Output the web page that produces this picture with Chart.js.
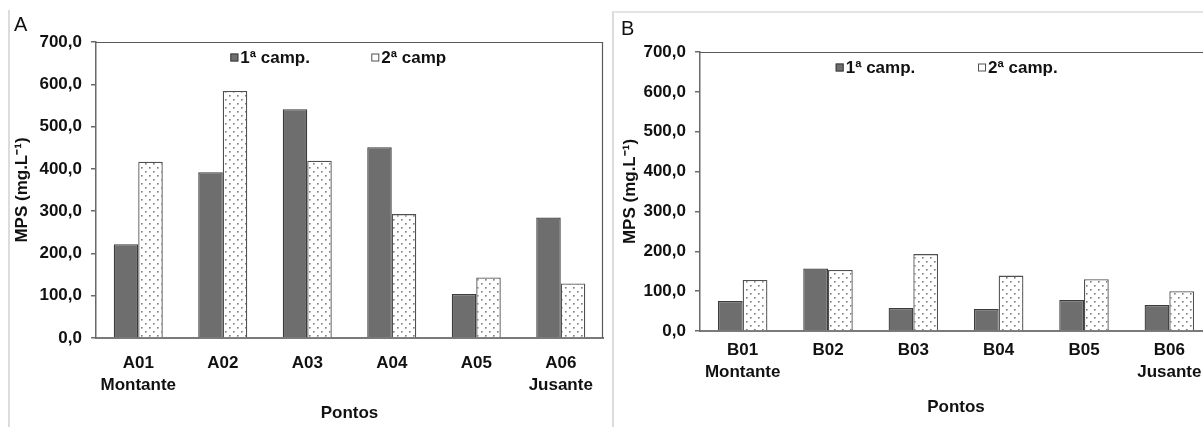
<!DOCTYPE html>
<html>
<head>
<meta charset="utf-8">
<script src="https://cdn.jsdelivr.net/npm/chart.js@4.4.1/dist/chart.umd.min.js"></script>
<style>
  html, body { margin: 0; padding: 0; background: #fff; width: 1203px; height: 427px; overflow: hidden; position: relative; font-family: 'Liberation Sans', Arial, sans-serif; }
  .wrap { position: absolute; }
  .frameA { position: absolute; left: 8px; top: 10px; width: 0; height: 417px; border-left: 2px solid #dcdcdc; }
  .frameB { position: absolute; left: 612px; top: 11px; width: 600px; height: 420px; border-left: 2px solid #dcdcdc; border-top: 2px solid #e4e4e4; }
  .letter { position: absolute; font-size: 20px; color: #111; font-family: 'Liberation Sans', Arial, sans-serif; }
</style>
</head>
<body>
<div class="frameA"></div>
<div class="frameB"></div>
<div class="wrap" style="left:8px; top:10px; width:600px; height:417px;"><canvas id="cA"></canvas></div>
<div class="wrap" style="left:613px; top:12px; width:620px; height:415px;"><canvas id="cB"></canvas></div>
<div class="letter" style="left:14px; top:13px;">A</div>
<div class="letter" style="left:621px; top:17px;">B</div>
<script>
// ---------- data ----------
const categoriesA = [['A01', 'Montante'], 'A02', 'A03', 'A04', 'A05', ['A06', 'Jusante']];
const campA1 = [222, 392, 541, 451, 104, 285];
const campA2 = [417, 584, 419, 293, 143, 129];
const seriesNamesA = ['1ª camp.', '2ª camp'];

const categoriesB = [['B01', 'Montante'], 'B02', 'B03', 'B04', 'B05', ['B06', 'Jusante']];
const campB1 = [75, 157, 58, 55, 78, 65];
const campB2 = [128, 153, 193, 139, 130, 100];
const seriesNamesB = ['1ª camp.', '2ª camp.'];

const yTickLabels = ['0,0', '100,0', '200,0', '300,0', '400,0', '500,0', '600,0', '700,0'];
const yTitle = 'MPS (mg.L\u207B\u00B9)';
const xTitle = 'Pontos';

// ---------- styles ----------
const FONT = "'Liberation Sans', Arial, sans-serif";
const dark = '#6e6e6e';
const darkBorder = '#3c3c3c';
const lightBorder = '#505050';

function makePattern() {
  const c = document.createElement('canvas');
  c.width = 8; c.height = 8;
  const g = c.getContext('2d');
  g.fillStyle = '#ffffff';
  g.fillRect(0, 0, 8, 8);
  g.fillStyle = '#7c7c7c';
  g.fillRect(1, 1, 1.6, 1.6);
  g.fillRect(5, 5, 1.6, 1.6);
  return g.createPattern(c, 'repeat');
}
const dots = makePattern();

const innerLegend = {
  id: 'innerLegend',
  afterDatasetsDraw(chart, args, opts) {
    const { ctx, chartArea } = chart;
    const w = chartArea.right - chartArea.left;
    ctx.save();
    // frame
    ctx.strokeStyle = '#5a5a5a';
    ctx.lineWidth = 1.2;
    ctx.beginPath();
    ctx.moveTo(chartArea.left, chartArea.top + 0.5);
    ctx.lineTo(chartArea.right - 0.5, chartArea.top + 0.5);
    ctx.lineTo(chartArea.right - 0.5, chartArea.bottom);
    ctx.stroke();
    chart.data.datasets.forEach((ds, i) => {
      const x = chartArea.left + opts.pos[i] * w;
      const y = chartArea.top + opts.dy;
      ctx.fillStyle = i === 0 ? dark : '#ffffff';
      ctx.fillRect(x, y - 4, 8, 8);
      ctx.strokeStyle = i === 0 ? darkBorder : lightBorder;
      ctx.lineWidth = 1;
      ctx.strokeRect(x + 0.5, y - 3.5, 7, 7);
      ctx.fillStyle = '#111';
      ctx.font = 'bold 17px ' + FONT;
      ctx.textBaseline = 'middle';
      ctx.textAlign = 'left';
      ctx.fillText(ds.label, x + 10, y + 1);
    });
    ctx.restore();
  }
};

function build(id, cats, s1, s2, names, cfg) {
  return new Chart(document.getElementById(id), {
    type: 'bar',
    data: {
      labels: cats,
      datasets: [
        { label: names[0], data: s1, backgroundColor: dark, borderColor: darkBorder, borderWidth: 1.3 },
        { label: names[1], data: s2, backgroundColor: dots, borderColor: lightBorder, borderWidth: 1.3 }
      ]
    },
    options: {
      responsive: true,
      maintainAspectRatio: false,
      animation: false,
      devicePixelRatio: 1,
      categoryPercentage: 0.58,
      barPercentage: 1.0,
      layout: { padding: { top: cfg.padTop, right: cfg.padRight, left: 0, bottom: 0 } },
      plugins: {
        legend: { display: false },
        tooltip: { enabled: false },
        innerLegend: { pos: [0.265, 0.543], dy: 15.5 }
      },
      scales: {
        x: {
          grid: { display: false, drawTicks: false, tickLength: 0 },
          border: { display: true, color: '#7a7a7a', width: 2 },
          ticks: { color: '#111', font: { family: FONT, size: 17, weight: 'bold', lineHeight: 1.3 }, padding: cfg.xPad, maxRotation: 0, autoSkip: false },
          title: { display: true, text: xTitle, color: '#111', font: { family: FONT, size: 17, weight: 'bold' }, padding: { top: cfg.xTitlePad, bottom: cfg.xTitlePad } },
          afterFit(s) { s.height = cfg.xHeight; }
        },
        y: {
          min: 0, max: 700,
          ticks: {
            stepSize: 100, color: '#111', padding: 9,
            font: { family: FONT, size: 17, weight: 'bold' },
            callback: (v, i) => yTickLabels[i]
          },
          grid: { drawOnChartArea: false, drawTicks: true, tickLength: 5, color: '#6a6a6a', lineWidth: 1.5 },
          border: { display: true, color: '#6a6a6a', width: 1.5 },
          title: { display: true, text: yTitle, color: '#111', font: { family: FONT, size: 17, weight: 'bold' }, padding: { top: cfg.yTitlePad, bottom: cfg.yTitlePad } },
          afterFit(s) { s.width = cfg.yWidth; }
        }
      }
    },
    plugins: [innerLegend]
  });
}

build('cA', categoriesA, campA1, campA2, seriesNamesA,
  { padTop: 32, padRight: 5, xHeight: 89, yWidth: 88, xPad: 14, xTitlePad: 3, yTitlePad: 4 });
build('cB', categoriesB, campB1, campB2, seriesNamesB,
  { padTop: 40, padRight: 21, xHeight: 96, yWidth: 87, xPad: 8, xTitlePad: 9, yTitlePad: 7 });
</script>
</body>
</html>
